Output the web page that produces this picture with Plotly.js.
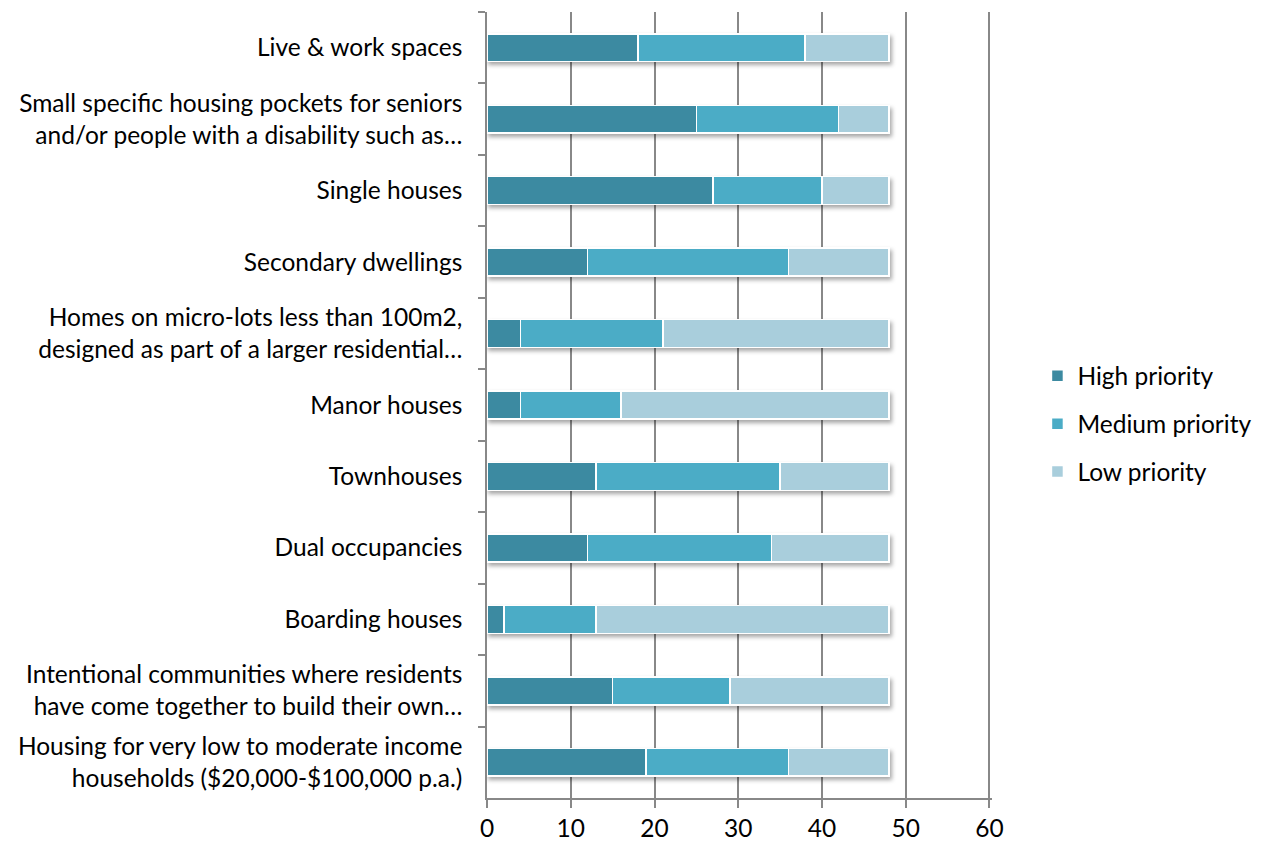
<!DOCTYPE html>
<html>
<head>
<meta charset="utf-8">
<script src="https://cdn.plot.ly/plotly-3.0.1.min.js"></script>
<style>
html,body{margin:0;padding:0;background:#fff;}
#chart{width:1268px;height:845px;}
#chart .barlayer{filter:drop-shadow(2px 3px 2px rgba(0,0,0,0.35));}
</style>
</head>
<body>
<div id="chart"></div>
<script>
const categories = [
  "Live & work spaces",
  "Small specific housing pockets for seniors<br>and/or people with a disability such as…",
  "Single houses",
  "Secondary dwellings",
  "Homes on micro-lots less than 100m2,<br>designed as part of a larger residential…",
  "Manor houses",
  "Townhouses",
  "Dual occupancies",
  "Boarding houses",
  "Intentional communities where residents<br>have come together to build their own…",
  "Housing for very low to moderate income<br>households ($20,000-$100,000 p.a.)"
];
const highPriority   = [18, 25, 27, 12, 4, 4, 13, 12, 2, 15, 19];
const mediumPriority = [20, 17, 13, 24, 17, 12, 22, 22, 11, 14, 17];
const lowPriority    = [10, 6, 8, 12, 27, 32, 13, 14, 35, 19, 12];
const seriesNames = ["High priority", "Medium priority", "Low priority"];
const seriesColors = ["#3C8AA1", "#4BACC6", "#A9CEDC"];
const xTicks = [0, 10, 20, 30, 40, 50, 60];

const allSeries = [highPriority, mediumPriority, lowPriority];
const traces = allSeries.map((vals, i) => ({
  type: "bar",
  orientation: "h",
  name: seriesNames[i],
  legendgroup: "g" + i,
  x: vals,
  y: categories,
  marker: {color: seriesColors[i], line: {color: "#ffffff", width: 1.5}},
  hoverinfo: "x+name"
}));

const font = {family: "Lato, 'Open Sans', sans-serif", size: 24.5, color: "#000000"};
const layout = {
  width: 1268, height: 845,
  margin: {l: 487, r: 274, t: 12, b: 47},
  barmode: "stack",
  bargap: 0.61,
  paper_bgcolor: "#ffffff",
  plot_bgcolor: "#ffffff",
  font: font,
  showlegend: true,
  legend: {
    x: 1.09, y: 0.476, xanchor: "left", yanchor: "middle",
    traceorder: "grouped", tracegroupgap: 13,
    font: font, itemwidth: 30
  },
  xaxis: {
    range: [0, 60.3],
    tickvals: xTicks,
    ticktext: xTicks.map(String),
    showgrid: true, gridcolor: "#888888", gridwidth: 1.5,
    zeroline: false,
    showline: true, linecolor: "#888888", linewidth: 1.5,
    ticks: "outside", ticklen: 8, tickcolor: "#888888", tickwidth: 1.5,
    tickfont: font
  },
  yaxis: {
    type: "category",
    categoryorder: "array",
    categoryarray: categories,
    autorange: "reversed",
    showgrid: false, zeroline: false,
    showline: true, linecolor: "#888888", linewidth: 1.5,
    ticks: "outside", ticklen: 7, tickcolor: "#888888", tickwidth: 1.5,
    tickson: "boundaries",
    ticklabelstandoff: 18,
    tickfont: font
  }
};
Plotly.newPlot("chart", traces, layout, {displayModeBar: false, staticPlot: false});
</script>
</body>
</html>
